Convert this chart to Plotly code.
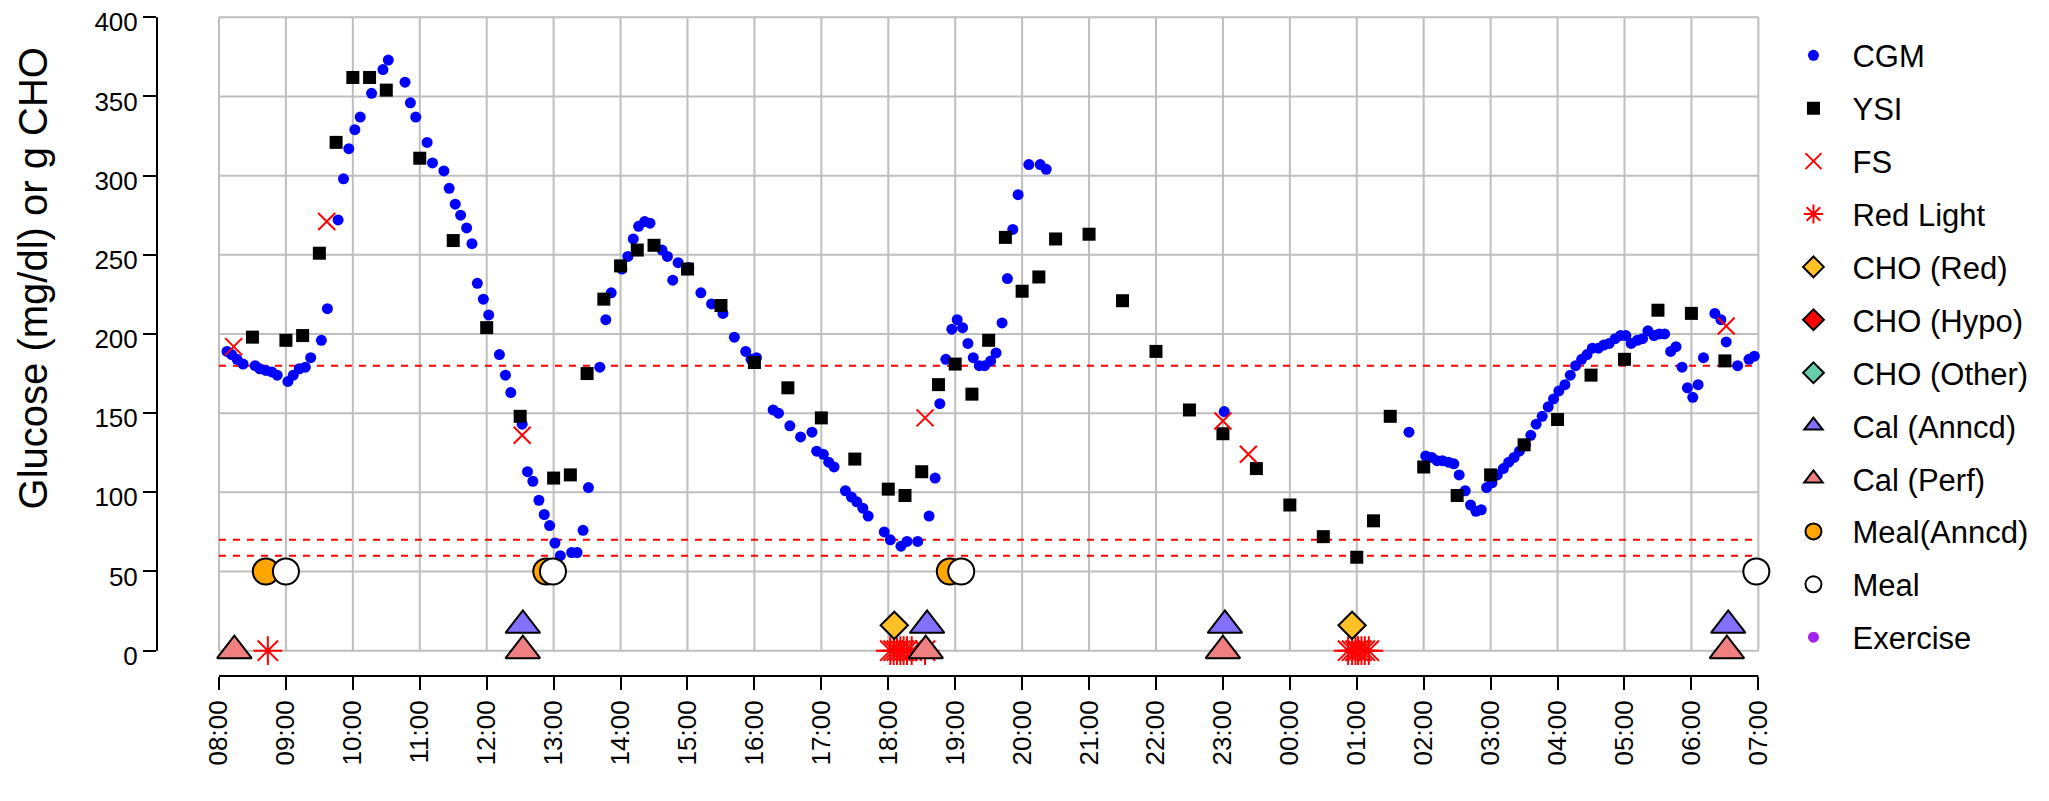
import plotly.graph_objects as go

# ---- data (hours since midnight of day 1; 24+ = next day) ----
hour_ticks = list(range(8, 32))
hour_labels = ["%02d:00" % (h % 24) for h in hour_ticks]
y_ticks = [0, 50, 100, 150, 200, 250, 300, 350, 400]
thresholds = [180, 70, 60]

cgm_t = [8.12, 8.19, 8.27, 8.36, 8.54, 8.61, 8.70, 8.79, 8.87, 9.03, 9.11, 9.20, 9.29, 9.37,
         9.53, 9.62, 9.78, 9.86, 9.94, 10.03, 10.11, 10.28, 10.45, 10.53, 10.78, 10.86, 10.94,
         11.11, 11.19, 11.36, 11.44, 11.53, 11.61, 11.70, 11.78, 11.86, 11.95, 12.03, 12.19,
         12.28, 12.36, 12.53, 12.61, 12.69, 12.78, 12.86, 12.94, 13.02, 13.10, 13.27, 13.35,
         13.44, 13.52, 13.69, 13.78, 13.86, 14.02, 14.11, 14.19, 14.27, 14.36, 14.44, 14.62,
         14.70, 14.78, 14.86, 15.02, 15.20, 15.36, 15.53, 15.70, 15.87, 15.95, 16.03, 16.28,
         16.36, 16.53, 16.69, 16.86, 16.93, 17.03, 17.11, 17.19, 17.36, 17.45, 17.53, 17.62,
         17.70, 17.94, 18.03, 18.19, 18.28, 18.44, 18.61, 18.70, 18.77, 18.86, 18.95, 19.03,
         19.11, 19.19, 19.27, 19.36, 19.44, 19.53, 19.61, 19.70, 19.78, 19.86, 19.94, 20.10,
         20.27, 20.36, 23.02, 25.78, 26.03, 26.12, 26.20, 26.28, 26.37, 26.45, 26.53, 26.62,
         26.70, 26.78, 26.86, 26.94, 27.02, 27.10, 27.19, 27.27, 27.35, 27.43, 27.52, 27.60,
         27.68, 27.77, 27.86, 27.94, 28.02, 28.11, 28.19, 28.27, 28.36, 28.44, 28.52, 28.61,
         28.69, 28.77, 28.86, 28.94, 29.02, 29.10, 29.19, 29.27, 29.35, 29.44, 29.52, 29.60,
         29.69, 29.77, 29.86, 29.94, 30.02, 30.10, 30.18, 30.35, 30.44, 30.52, 30.69, 30.86,
         30.94]
cgm_v = [189, 187, 184, 181, 180, 178, 177, 176, 174, 170, 174, 178, 179, 185,
         196, 216, 272, 298, 317, 329, 337, 352, 367, 373, 359, 346, 337,
         321, 308, 303, 292, 282, 275, 267, 257, 232, 222, 212, 187,
         174, 163, 143, 113, 107, 95, 86, 79, 68, 60, 62, 62,
         76, 103, 179, 209, 226, 241, 249, 260, 268, 271, 270, 253,
         249, 234, 245, 242, 226, 219, 213, 198, 189, 184, 185, 152,
         150, 142, 135, 138, 126, 124, 119, 116, 101, 97, 94, 90,
         85, 75, 70, 66, 69, 69, 85, 109, 156, 184, 203, 209,
         204, 194, 185, 180, 180, 183, 188, 207, 235, 266, 288, 307,
         307, 304, 151, 138, 123, 122, 120, 120, 119, 118, 111, 101,
         92, 88, 89, 103, 106, 111, 115, 119, 122, 126, 130, 136,
         143, 148, 154, 159, 164, 168, 174, 180, 184, 187, 191, 191,
         193, 194, 197, 199, 199, 194, 196, 197, 202, 199, 200, 200,
         189, 192, 179, 166, 160, 168, 185, 213, 209, 195, 180, 184,
         186]

ysi_t = [8.50, 9.00, 9.25, 9.50, 9.75, 10.00, 10.25, 10.50, 11.00, 11.50, 12.00, 12.50,
         13.00, 13.25, 13.50, 13.75, 14.00, 14.25, 14.50, 15.00, 15.50, 16.00, 16.50, 17.00,
         17.50, 18.00, 18.25, 18.50, 18.75, 19.00, 19.25, 19.50, 19.75, 20.00, 20.25, 20.50,
         21.00, 21.50, 22.00, 22.50, 23.00, 23.50, 24.00, 24.50, 25.00, 25.25, 25.50, 26.00,
         26.50, 27.00, 27.50, 28.00, 28.50, 29.00, 29.50, 30.00, 30.50]
ysi_v = [198, 196, 199, 251, 321, 362, 362, 354, 311, 259, 204, 148,
         109, 111, 175, 222, 243, 253, 256, 241, 218, 182, 166, 147,
         121, 102, 98, 113, 168, 181, 162, 196, 261, 227, 236, 260,
         263, 221, 189, 152, 137, 115, 92, 72, 59, 82, 148, 116,
         98, 111, 130, 146, 174, 184, 215, 213, 183]

fs_t = [8.22, 9.61, 12.53, 18.55, 23.00, 23.38, 30.52]
fs_v = [192, 271, 136, 147, 145, 124, 205]

red_t = [8.73, 18.03, 18.08, 18.13, 18.18, 18.23, 18.28, 18.35, 18.55,
         24.87, 24.93, 24.98, 25.02, 25.07, 25.12, 25.18]
red_v = [0] * len(red_t)

cho_red_t = [18.09, 24.93]
cho_red_v = [16, 16]
cho_hypo_t, cho_hypo_v = [None], [None]
cho_other_t, cho_other_v = [None], [None]

cal_anncd_t = [12.54, 18.58, 23.03, 30.55]
cal_anncd_v = [16, 16, 16, 16]
cal_perf_t = [8.23, 12.54, 18.56, 23.00, 30.53]
cal_perf_v = [0, 0, 0, 0, 0]

meal_anncd_t = [8.70, 12.89, 18.92]
meal_anncd_v = [50, 50, 50]
meal_t = [9.00, 12.99, 19.09, 30.97]
meal_v = [50, 50, 50, 50]
exercise_t, exercise_v = [None], [None]

# ---- figure ----
fig = go.Figure()
blk = dict(color="black", width=2)


def add(name, x, y, symbol, size, color, line=None):
    m = dict(symbol=symbol, size=size, color=color)
    m["line"] = line if line is not None else dict(width=0)
    fig.add_trace(go.Scatter(x=x, y=y, mode="markers", name=name, marker=m,
                             legendgroup=name, cliponaxis=False))


add("CGM", cgm_t, cgm_v, "circle", 11, "#0000FF")
add("YSI", ysi_t, ysi_v, "square", 13, "black")
add("FS", fs_t, fs_v, "x-thin-open", 17, "red", dict(color="red", width=2))
add("Red Light", red_t, red_v, "asterisk-open", 24, "red", dict(color="red", width=2))
add("CHO (Red)", cho_red_t, cho_red_v, "diamond", 21, "#FFC125", blk)
add("CHO (Hypo)", cho_hypo_t, cho_hypo_v, "diamond", 21, "#FF0000", blk)
add("CHO (Other)", cho_other_t, cho_other_v, "diamond", 21, "#66CDAA", blk)
add("Cal (Anncd)", cal_anncd_t, cal_anncd_v, "triangle-up", 30, "#8470FF", blk)
add("Cal (Perf)", cal_perf_t, cal_perf_v, "triangle-up", 30, "#F08080", blk)
add("Meal(Anncd)", meal_anncd_t, meal_anncd_v, "circle", 26, "#FFA500", blk)
add("Meal", meal_t, meal_v, "circle", 26, "white", blk)
add("Exercise", exercise_t, exercise_v, "circle", 11, "#A020F0")

shapes = []
grid = dict(color="#BEBEBE", width=2)
for h in hour_ticks:
    shapes.append(dict(type="line", xref="x", yref="y", x0=h, x1=h, y0=y_ticks[0],
                       y1=y_ticks[-1], line=grid, layer="below"))
for v in y_ticks:
    shapes.append(dict(type="line", xref="x", yref="y", x0=hour_ticks[0], x1=hour_ticks[-1],
                       y0=v, y1=v, line=grid, layer="below"))
for v in thresholds:
    shapes.append(dict(type="line", xref="x", yref="y", x0=hour_ticks[0], x1=hour_ticks[-1],
                       y0=v, y1=v, line=dict(color="red", width=2, dash="7px,7px"),
                       layer="below"))
# axis lines (only over the tick span, as in the original)
shapes.append(dict(type="line", xref="paper", yref="y", x0=0, x1=0, y0=y_ticks[0],
                   y1=y_ticks[-1], line=dict(color="black", width=2)))
shapes.append(dict(type="line", xref="x", yref="paper", x0=hour_ticks[0], x1=hour_ticks[-1],
                   y0=0, y1=0, line=dict(color="black", width=2)))

fam = "Liberation Sans, Arial, sans-serif"
tick_font = dict(family=fam, size=26, color="black")
legend_font = dict(family=fam, size=31, color="black")
title_font = dict(family=fam, size=40, color="black")

# page body has an 8px default margin, so the figure is 16px smaller than the window
fig.update_layout(
    width=2033, height=785,
    margin=dict(l=149, r=253, t=2, b=117, autoexpand=False),
    paper_bgcolor="white", plot_bgcolor="white",
    font=tick_font,
    shapes=shapes,
    xaxis=dict(range=[7.074, 31.443], tickvals=hour_ticks, ticktext=hour_labels,
               tickangle=-90, ticks="outside", ticklen=13, tickwidth=2, tickcolor="black",
               showgrid=False, zeroline=False, showline=False, tickfont=tick_font,
               automargin=False, ticklabeloverflow="allow"),
    yaxis=dict(range=[-16.0, 404.6], tickvals=y_ticks, ticks="outside", ticklen=13,
               tickwidth=2, tickcolor="black", showgrid=False, zeroline=False,
               showline=False, tickfont=tick_font, automargin=False,
               ticklabeloverflow="allow", ticklabelshift=5),
    legend=dict(x=0.9917, y=0.972, xanchor="left", yanchor="top", font=legend_font,
                bgcolor="rgba(0,0,0,0)", traceorder="grouped", tracegroupgap=9.6,
                itemwidth=68),
    annotations=[dict(text="Glucose (mg/dl) or g CHO", xref="paper", yref="paper",
                      x=(1 - 149) / 1631, y=0.597, textangle=-90, showarrow=False,
                      xanchor="left", yanchor="middle", font=title_font)],
)

fig.write_html("out.html")
